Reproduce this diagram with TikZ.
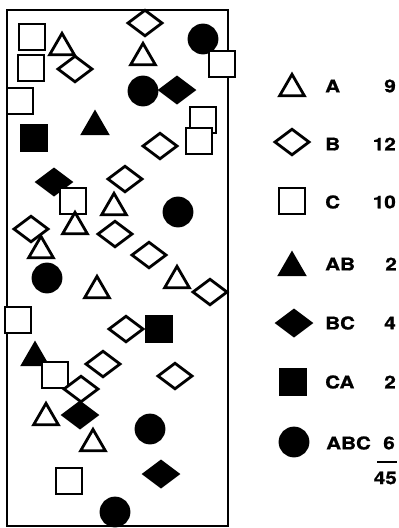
\documentclass[tikz,border=0pt]{standalone}
\usepackage{fontspec}
\setmainfont[FakeStretch=1.18, BoldFeatures={FakeBold=1.2}]{TeX Gyre Heros}
\usetikzlibrary{shapes.geometric}
\tikzset{
  symbase/.style={inner sep=0pt, outer sep=0pt, line width=2.8pt, draw=black},
  triopen/.style={symbase, regular polygon, regular polygon sides=3, minimum size=28.5pt, fill=white, yshift=-3.6pt},
  trifull/.style={triopen, fill=black},
  diaopen/.style={symbase, diamond, minimum width=34pt, minimum height=25.5pt, fill=white},
  diafull/.style={diaopen, fill=black},
  sqopen/.style={symbase, rectangle, minimum size=26pt, fill=white},
  sqfull/.style={sqopen, fill=black},
  dotfull/.style={symbase, circle, minimum size=28pt, fill=black},
  keytext/.style={font=\fontsize{17.5}{19}\selectfont\bfseries, inner sep=0pt},
}

\begin{document}
\begin{tikzpicture}[x=1pt, y=-1pt]
  \useasboundingbox (0,0) rectangle (399,528);
  % sample frame
  \draw[line width=2pt] (7,10) rectangle (228,526);

  % filled symbols first
  \foreach \x/\y [count=\i] in {95/123, 35/354}
    \node[trifull] (ab\i) at (\x,\y) {};
  \foreach \x/\y [count=\i] in {177/90, 54/182, 80/415, 161/474}
    \node[diafull] (bc\i) at (\x,\y) {};
  \foreach \x/\y [count=\i] in {34/138, 159/329}
    \node[sqfull] (ca\i) at (\x,\y) {};
  \foreach \x/\y [count=\i] in {203/39, 143/91, 178/212, 47/278, 150/429, 115/512}
    \node[dotfull] (abc\i) at (\x,\y) {};

  % open symbols
  \foreach \x/\y [count=\i] in {32/37, 31/68, 20/101, 222/64, 203/120, 199/141, 73/201, 18/320, 55/375, 69/481}
    \node[sqopen] (c\i) at (\x,\y) {};
  \foreach \x/\y [count=\i] in {145/23, 75/69, 160/146, 125/179, 31/229, 115/234, 149/255, 210/292, 126/329, 103/364, 175/376, 81/389}
    \node[diaopen] (b\i) at (\x,\y) {};
  \foreach \x/\y [count=\i] in {62/44, 143/54, 114/204, 75/223, 41/247, 177/277, 97/287, 46/414, 93/440}
    \node[triopen] (a\i) at (\x,\y) {};

  % key
  \node[triopen] (kA) at (292,85) {};
  \node[keytext, anchor=west] (lA) at (325,86) {A};
  \node[keytext, anchor=east] (nA) at (396,86) {9};

  \node[diaopen] (kB) at (292,142) {};
  \node[keytext, anchor=west] (lB) at (325,144) {B};
  \node[keytext, anchor=east] (nB) at (396,144) {12};

  \node[sqopen] (kC) at (292,201) {};
  \node[keytext, anchor=west] (lC) at (325,202) {C};
  \node[keytext, anchor=east] (nC) at (396,202) {10};

  \node[trifull] (kAB) at (292,264) {};
  \node[keytext, anchor=west] (lAB) at (325,264) {AB};
  \node[keytext, anchor=east] (nAB) at (397,264) {2};

  \node[diafull] (kBC) at (294,323) {};
  \node[keytext, anchor=west] (lBC) at (325,323) {BC};
  \node[keytext, anchor=east] (nBC) at (396,323) {4};

  \node[sqfull] (kCA) at (293,382) {};
  \node[keytext, anchor=west] (lCA) at (325,382) {CA};
  \node[keytext, anchor=east] (nCA) at (396,382) {2};

  \node[dotfull] (kABC) at (294,442) {};
  \node[keytext, anchor=west] (lABC) at (326,443) {ABC};
  \node[keytext, anchor=east] (nABC) at (395,443) {6};

  \coordinate (ruleL) at (377,462);
  \coordinate (ruleR) at (397,462);
  \draw[line width=1.8pt] (ruleL) -- (ruleR);
  \node[keytext, anchor=east] (nSum) at (397,478) {45};
\end{tikzpicture}
\end{document}
